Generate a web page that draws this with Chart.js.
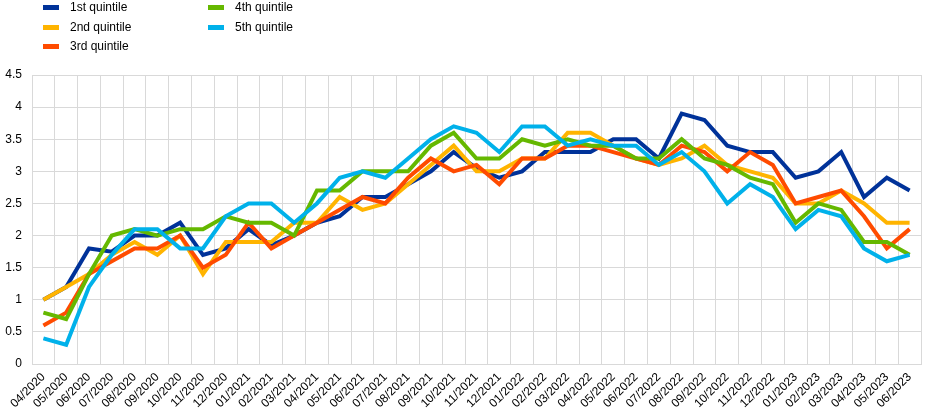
<!DOCTYPE html>
<html>
<head>
<meta charset="utf-8">
<script src="https://cdn.jsdelivr.net/npm/chart.js@4"></script>
<style>
  html, body { margin: 0; padding: 0; background: #fff; }
  #wrap { position: relative; width: 945px; height: 420px; }
  #legend { position: absolute; left: 0; top: 0; width: 945px; height: 60px;
            font-family: Arial, "Liberation Sans", sans-serif; font-size: 12px; color: #000; }
  .item { position: absolute; height: 14px; line-height: 14px; white-space: nowrap; }
  .swatch { display: inline-block; width: 16px; height: 5px; vertical-align: middle; margin-right: 11px; }
</style>
</head>
<body>
<div id="wrap">
  <canvas id="chart" width="945" height="420"></canvas>
  <div id="legend"></div>
</div>
<script>
const months = [
  '04/2020', '05/2020', '06/2020', '07/2020', '08/2020', '09/2020', '10/2020', '11/2020', '12/2020',
  '01/2021', '02/2021', '03/2021', '04/2021', '05/2021', '06/2021', '07/2021', '08/2021', '09/2021',
  '10/2021', '11/2021', '12/2021', '01/2022', '02/2022', '03/2022', '04/2022', '05/2022', '06/2022',
  '07/2022', '08/2022', '09/2022', '10/2022', '11/2022', '12/2022', '01/2023', '02/2023', '03/2023',
  '04/2023', '05/2023', '06/2023'
];

const quintile1 = [1.0, 1.2, 1.8, 1.75, 2.0, 2.0, 2.2, 1.7, 1.8, 2.1, 1.85, 2.0, 2.2, 2.3, 2.6, 2.6, 2.8, 3.0, 3.3, 3.05,
  2.9, 3.0, 3.3, 3.3, 3.3, 3.5, 3.5, 3.2, 3.9, 3.8, 3.4, 3.3, 3.3, 2.9, 3.0, 3.3, 2.6, 2.9, 2.7];
const quintile2 = [1.0, 1.2, 1.4, 1.7, 1.9, 1.7, 2.0, 1.4, 1.9, 1.9, 1.9, 2.2, 2.2, 2.6, 2.4, 2.5, 2.8, 3.1, 3.4, 3.0,
  3.0, 3.2, 3.2, 3.6, 3.6, 3.4, 3.2, 3.1, 3.2, 3.4, 3.1, 3.0, 2.9, 2.5, 2.5, 2.7, 2.5, 2.2, 2.2];
const quintile3 = [0.6, 0.8, 1.4, 1.6, 1.8, 1.8, 2.0, 1.5, 1.7, 2.2, 1.8, 2.0, 2.2, 2.4, 2.6, 2.5, 2.9, 3.2, 3.0, 3.1,
  2.8, 3.2, 3.2, 3.4, 3.4, 3.3, 3.2, 3.1, 3.4, 3.3, 3.0, 3.3, 3.1, 2.5, 2.6, 2.7, 2.3, 1.8, 2.1];
const quintile4 = [0.8, 0.7, 1.4, 2.0, 2.1, 2.0, 2.1, 2.1, 2.3, 2.2, 2.2, 2.0, 2.7, 2.7, 3.0, 3.0, 3.0, 3.4, 3.6, 3.2,
  3.2, 3.5, 3.4, 3.5, 3.4, 3.4, 3.2, 3.2, 3.5, 3.2, 3.1, 2.9, 2.8, 2.2, 2.5, 2.4, 1.9, 1.9, 1.7];
const quintile5 = [0.4, 0.3, 1.2, 1.7, 2.1, 2.1, 1.8, 1.8, 2.3, 2.5, 2.5, 2.2, 2.5, 2.9, 3.0, 2.9, 3.2, 3.5, 3.7, 3.6,
  3.3, 3.7, 3.7, 3.4, 3.5, 3.4, 3.4, 3.1, 3.3, 3.0, 2.5, 2.8, 2.6, 2.1, 2.4, 2.3, 1.8, 1.6, 1.7];

const seriesNames = ['1st quintile', '2nd quintile', '3rd quintile', '4th quintile', '5th quintile'];
const seriesData = [quintile1, quintile2, quintile3, quintile4, quintile5];
const seriesColors = ['#003299', '#FFB400', '#FF4B00', '#65B800', '#00B1EA'];

// legend positions (two columns, filled top to bottom)
const legendSpots = [[43, 0], [43, 20], [43, 39], [208, 0], [208, 20]];

const legend = document.getElementById('legend');
seriesNames.forEach((name, i) => {
  const div = document.createElement('div');
  div.className = 'item';
  div.style.left = legendSpots[i][0] + 'px';
  div.style.top = legendSpots[i][1] + 'px';
  div.innerHTML = '<span class="swatch" style="background:' + seriesColors[i] + '"></span>' + name;
  legend.appendChild(div);
});

const font = { family: 'Arial, "Liberation Sans", sans-serif', size: 12 };
const gridColor = '#d9d9d9';

const datasets = seriesNames.map((name, i) => ({
  label: name,
  data: seriesData[i],
  borderColor: seriesColors[i],
  backgroundColor: seriesColors[i],
  borderWidth: 4,
  pointRadius: 0,
  tension: 0,
  fill: false,
  order: seriesNames.length - i
}));

new Chart(document.getElementById('chart').getContext('2d'), {
  type: 'line',
  data: { labels: months, datasets: datasets },
  options: {
    responsive: false,
    animation: false,
    layout: { padding: { top: 75, right: 24, bottom: 0, left: 0 } },
    plugins: { legend: { display: false }, tooltip: { enabled: false } },
    scales: {
      x: {
        offset: true,
        grid: { offset: true, color: gridColor, drawTicks: false },
        border: { color: gridColor },
        ticks: { color: '#000', font: font, minRotation: 45, maxRotation: 45, padding: 6, autoSkip: false },
        afterFit: (scale) => { scale.height = 56; }
      },
      y: {
        min: 0,
        max: 4.5,
        grid: { color: gridColor, drawTicks: false },
        border: { color: gridColor },
        ticks: {
          stepSize: 0.5, color: '#000', font: font, padding: 10,
          callback: (value) => String(Math.round(value * 10) / 10)
        },
        afterFit: (scale) => { scale.width = 32; }
      }
    }
  }
});
</script>
</body>
</html>
